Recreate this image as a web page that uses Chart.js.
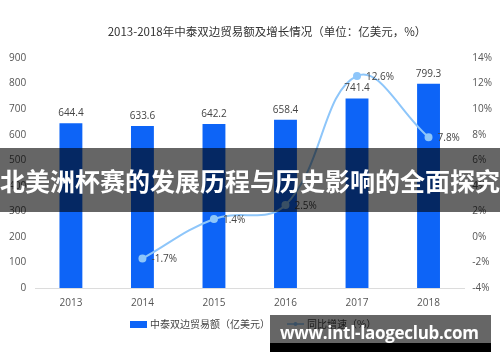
<!DOCTYPE html>
<html>
<head>
<meta charset="utf-8">
<script src="https://cdn.jsdelivr.net/npm/chart.js@4.4.1/dist/chart.umd.min.js"></script>
<style>
  body { margin: 0; background: #fff; }
  #wrap { position: relative; width: 500px; height: 362px; }
  #band {
    position: absolute; left: 0; top: 148px; width: 500px; height: 64px;
    background: rgba(0, 0, 0, 0.6); color: #fff;
    font: bold 25px "Noto Sans CJK SC"; line-height: 64px;
    text-align: center; white-space: nowrap; overflow: hidden;
  }
  #mark {
    position: absolute; left: 270px; top: 315px; width: 221px; height: 28px;
    background: rgba(0, 0, 0, 0.6);
  }
  #markBar {
    position: absolute; left: 270px; top: 343px; width: 221px; height: 9px;
    background: #000;
  }
  #markText {
    position: absolute; left: 280px; top: 322px; width: 210px;
    color: #fff; font: bold 17px "Open Sans"; letter-spacing: -0.3px;
    line-height: 22px; white-space: nowrap;
  }
</style>
</head>
<body>
<div id="wrap">
  <canvas id="tradeChart" width="500" height="362"></canvas>
  <div id="band">北美洲杯赛的发展历程与历史影响的全面探究</div>
  <div id="mark"></div>
  <div id="markBar"></div>
  <div id="markText">www.intl-laogeclub.com</div>
</div>
<script>
const years = ['2013', '2014', '2015', '2016', '2017', '2018'];
const tradeValues = [644.4, 633.6, 642.2, 658.4, 741.4, 799.3]; // 亿美元
const growthRates = [null, -1.7, 1.4, 2.5, 12.6, 7.8];          // %
const chartTitle = '2013-2018年中泰双边贸易额及增长情况（单位：亿美元，%）';
const legendNames = ['中泰双边贸易额（亿美元）', '同比增速（%）'];

const barColor = '#0d64f7';
const lineColor = '#8ec6fa';
const tickFont = { family: '"Open Sans"', size: 10 };

// titel, label angka dan legend digambar manual
const extras = {
  id: 'extras',
  afterDatasetsDraw(chart) {
    const ctx = chart.ctx;
    ctx.save();
    ctx.font = '10px "Open Sans"';
    ctx.fillStyle = '#444';

    ctx.textAlign = 'center';
    ctx.textBaseline = 'bottom';
    chart.getDatasetMeta(1).data.forEach((bar, i) => {
      ctx.fillText(tradeValues[i].toFixed(1), bar.x, bar.y - 5);
    });

    ctx.textAlign = 'left';
    ctx.textBaseline = 'middle';
    chart.getDatasetMeta(0).data.forEach((pt, i) => {
      if (growthRates[i] === null) return;
      ctx.fillText(growthRates[i].toFixed(1) + '%', pt.x + 9, pt.y + 1);
    });
    ctx.restore();
  },
  afterDraw(chart) {
    const ctx = chart.ctx;
    ctx.save();
    ctx.fillStyle = '#333';
    ctx.font = '11.5px "Noto Sans CJK SC"';
    ctx.textAlign = 'center';
    ctx.textBaseline = 'middle';
    ctx.fillText(chartTitle, 267, 32);

    // legend
    ctx.font = '10px "Noto Sans CJK SC"';
    ctx.textAlign = 'left';
    ctx.fillStyle = barColor;
    ctx.fillRect(130, 321, 17, 7);
    ctx.fillStyle = '#444';
    ctx.fillText(legendNames[0], 150, 324);

    ctx.strokeStyle = lineColor;
    ctx.lineWidth = 1.5;
    ctx.beginPath();
    ctx.moveTo(287, 324);
    ctx.lineTo(304, 324);
    ctx.stroke();
    ctx.fillStyle = lineColor;
    ctx.beginPath();
    ctx.arc(295.5, 324, 2, 0, Math.PI * 2);
    ctx.fill();
    ctx.fillStyle = '#444';
    ctx.fillText(legendNames[1], 307, 324);
    ctx.restore();
  }
};

new Chart(document.getElementById('tradeChart'), {
  data: {
    labels: years,
    datasets: [
      {
        type: 'line',
        label: legendNames[1],
        data: growthRates,
        yAxisID: 'y1',
        borderColor: lineColor,
        backgroundColor: lineColor,
        borderWidth: 2,
        pointRadius: 3,
        pointHoverRadius: 3,
        tension: 0.4,
        order: 0
      },
      {
        type: 'bar',
        label: legendNames[0],
        data: tradeValues,
        yAxisID: 'y',
        backgroundColor: barColor,
        barPercentage: 0.32,
        categoryPercentage: 1,
        order: 1
      }
    ]
  },
  options: {
    responsive: false,
    animation: false,
    layout: { padding: { top: 58, bottom: 44, left: 0, right: 0 } },
    plugins: {
      legend: { display: false },
      title: { display: false },
      tooltip: { enabled: false }
    },
    scales: {
      x: {
        grid: { display: false, drawTicks: false },
        border: { color: '#dcdcdc' },
        ticks: { color: '#555', font: tickFont, padding: 9 }
      },
      y: {
        position: 'left',
        min: 0,
        max: 900,
        grid: { display: false, drawTicks: false },
        border: { display: false },
        ticks: { stepSize: 100, color: '#555', font: tickFont, padding: 9 }
      },
      y1: {
        position: 'right',
        min: -4,
        max: 14,
        grid: { display: false, drawTicks: false },
        border: { display: false },
        ticks: {
          stepSize: 2,
          color: '#555',
          font: tickFont,
          padding: 8,
          callback: value => value + '%'
        }
      }
    }
  },
  plugins: [extras]
});
</script>
</body>
</html>
